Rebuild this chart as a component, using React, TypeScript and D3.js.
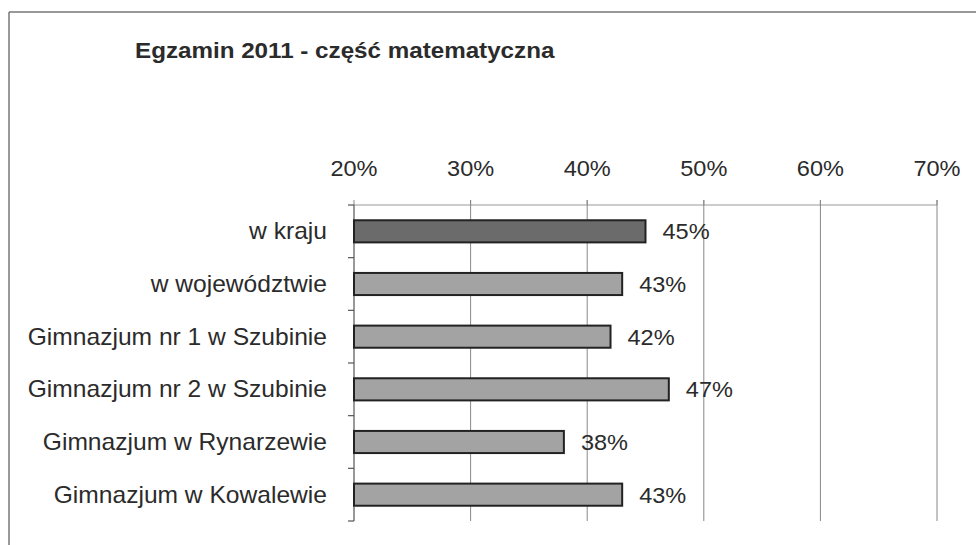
import React from 'react';
import * as d3 from 'd3';

const categories = [
  'w kraju',
  'w województwie',
  'Gimnazjum nr 1 w Szubinie',
  'Gimnazjum nr 2 w Szubinie',
  'Gimnazjum w Rynarzewie',
  'Gimnazjum w Kowalewie',
];
const values = [45, 43, 42, 47, 38, 43];
const ticks = [20, 30, 40, 50, 60, 70];
const title = 'Egzamin 2011 - część matematyczna';

const W = 976;
const H = 545;
const font = '"Liberation Sans", Arial, sans-serif';
const ink = '#2b2b2b';
const sx = 1.07; // scan is slightly stretched horizontally

const App = () => {
  const x = d3.scaleLinear().domain([20, 70]).range([354, 937]);
  const y = d3.scaleBand<string>()
    .domain(categories)
    .range([205, 521])
    .paddingInner(0.58)
    .paddingOuter(0.29);
  const [top, bottom] = y.range();
  const step = y.step();

  return (
    <svg width={W} height={H} style={{ position: 'absolute', left: 0, top: 0, background: '#fff' }}>
      {/* frame */}
      <line x1={9} y1={12} x2={W} y2={12} stroke="#777" strokeWidth={1.5} />
      <line x1={9} y1={12} x2={9} y2={H} stroke="#777" strokeWidth={1.5} />

      <text
        transform={`translate(135,58) scale(1.1,1)`}
        fontFamily={font}
        fontSize={22}
        fontWeight="bold"
        fill={ink}
      >
        {title}
      </text>

      {/* top axis line */}
      <line x1={x(20)} y1={top} x2={x(70)} y2={top} stroke="#999" strokeWidth={1} />

      {/* gridlines + tick marks */}
      {ticks.map(t => (
        <g key={t}>
          {t > 20 && (
            <line x1={x(t)} y1={top - 5} x2={x(t)} y2={bottom} stroke="#888" strokeWidth={1} />
          )}
          <line x1={x(t)} y1={top - 5} x2={x(t)} y2={top} stroke="#888" strokeWidth={1} />
          <text
            transform={`translate(${x(t)},176) scale(${sx},1)`}
            textAnchor="middle"
            fontFamily={font}
            fontSize={22}
            fill={ink}
          >
            {t}%
          </text>
        </g>
      ))}

      {/* category axis */}
      <line x1={x(20)} y1={top} x2={x(20)} y2={bottom} stroke="#555" strokeWidth={1.2} />
      {d3.range(categories.length + 1).map(i => (
        <line
          key={i}
          x1={x(20) - 6}
          x2={x(20)}
          y1={top + i * step}
          y2={top + i * step}
          stroke="#555"
          strokeWidth={1.2}
        />
      ))}

      {categories.map((c, i) => {
        const cy = (y(c) as number) + y.bandwidth() / 2;
        return (
          <g key={c}>
            <rect
              x={x(20)}
              y={y(c)}
              width={x(values[i]) - x(20)}
              height={y.bandwidth()}
              fill={i === 0 ? '#6b6b6b' : '#a3a3a3'}
              stroke="#222"
              strokeWidth={2}
            />
            <text
              transform={`translate(327,${cy + 8}) scale(${sx},1)`}
              textAnchor="end"
              fontFamily={font}
              fontSize={23}
              fill={ink}
            >
              {c}
            </text>
            <text
              transform={`translate(${x(values[i]) + 17},${cy + 8}) scale(${sx},1)`}
              fontFamily={font}
              fontSize={22}
              fill={ink}
            >
              {values[i]}%
            </text>
          </g>
        );
      })}
    </svg>
  );
};

export default App;
